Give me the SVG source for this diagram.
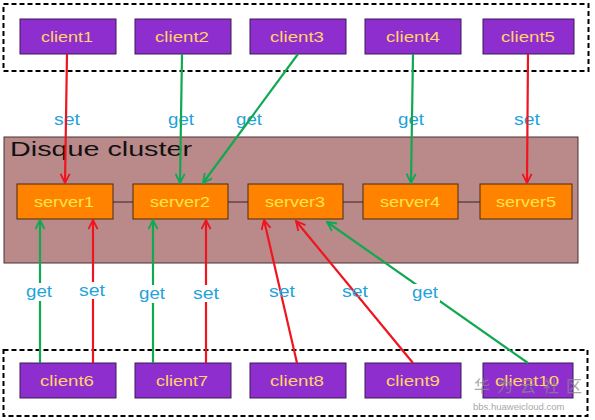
<svg xmlns="http://www.w3.org/2000/svg" width="595" height="420" viewBox="0 0 595 420">
<defs>
<style>
.grp{fill:none;stroke:#000;stroke-width:2;stroke-dasharray:5,3}
.client rect{fill:#8F2ECF;stroke:#3a1a50;stroke-width:1}
.client text{font-family:"Liberation Sans",Arial,sans-serif;font-size:15px;fill:#FFD36A;text-anchor:middle}
.server rect{fill:#FF8300;stroke:#4a2a10;stroke-width:1}
.server text{font-family:"Liberation Sans",Arial,sans-serif;font-size:15px;fill:#FFE34A;text-anchor:middle}
.lbl{font-family:"Liberation Sans",Arial,sans-serif;font-size:16px;fill:#1FA3DA;text-anchor:middle}
.red{stroke:#F0141E;stroke-width:2.2;fill:none}
.green{stroke:#10A850;stroke-width:2.2;fill:none}
.bg{fill:#fff}
</style>
<marker id="ar" viewBox="0 0 12 12" refX="11" refY="6" markerWidth="5" markerHeight="5" orient="auto" markerUnits="strokeWidth">
<path d="M1,1 L11,6 L1,11" fill="none" stroke="#F0141E" stroke-width="2"/>
</marker>
<marker id="ag" viewBox="0 0 12 12" refX="11" refY="6" markerWidth="5" markerHeight="5" orient="auto" markerUnits="strokeWidth">
<path d="M1,1 L11,6 L1,11" fill="none" stroke="#10A850" stroke-width="2"/>
</marker>
</defs>
<rect width="595" height="420" fill="#fff"/>
<rect class="grp" x="3.5" y="4" width="585" height="67"/>
<rect class="grp" x="3.5" y="350" width="584" height="66"/>
<g id="cluster">
<rect x="4" y="137" width="574" height="126" fill="#BA8A8A" stroke="#4a3030" stroke-width="1"/>
<text x="10" y="156" font-family="Liberation Sans,Arial,sans-serif" font-size="20" fill="#111" textLength="182" lengthAdjust="spacingAndGlyphs">Disque cluster</text>
</g>
<g id="links" stroke="#3a2020" stroke-width="1">
<line x1="113" y1="202" x2="133" y2="202"/>
<line x1="228" y1="202" x2="248" y2="202"/>
<line x1="343" y1="202" x2="363" y2="202"/>
<line x1="458" y1="202" x2="480" y2="202"/>
</g>
<g id="server1" class="server"><rect x="17" y="184" width="96" height="35"/><text x="64" y="207" textLength="60" lengthAdjust="spacingAndGlyphs">server1</text></g>
<g id="server2" class="server"><rect x="133" y="184" width="95" height="35"/><text x="180" y="207" textLength="60" lengthAdjust="spacingAndGlyphs">server2</text></g>
<g id="server3" class="server"><rect x="248" y="184" width="95" height="35"/><text x="295" y="207" textLength="60" lengthAdjust="spacingAndGlyphs">server3</text></g>
<g id="server4" class="server"><rect x="363" y="184" width="95" height="35"/><text x="410" y="207" textLength="60" lengthAdjust="spacingAndGlyphs">server4</text></g>
<g id="server5" class="server"><rect x="480" y="184" width="92" height="35"/><text x="526" y="207" textLength="60" lengthAdjust="spacingAndGlyphs">server5</text></g>
<g id="client1" class="client"><rect x="20" y="19" width="96" height="35"/><text x="67" y="42" textLength="52" lengthAdjust="spacingAndGlyphs">client1</text></g>
<g id="client2" class="client"><rect x="135" y="19" width="96" height="35"/><text x="182" y="42" textLength="54" lengthAdjust="spacingAndGlyphs">client2</text></g>
<g id="client3" class="client"><rect x="250" y="19" width="96" height="35"/><text x="297" y="42" textLength="54" lengthAdjust="spacingAndGlyphs">client3</text></g>
<g id="client4" class="client"><rect x="365" y="19" width="96" height="35"/><text x="413" y="42" textLength="54" lengthAdjust="spacingAndGlyphs">client4</text></g>
<g id="client5" class="client"><rect x="483" y="19" width="91" height="35"/><text x="528" y="42" textLength="54" lengthAdjust="spacingAndGlyphs">client5</text></g>
<g id="client6" class="client"><rect x="20" y="363" width="96" height="35"/><text x="67" y="386" textLength="54" lengthAdjust="spacingAndGlyphs">client6</text></g>
<g id="client7" class="client"><rect x="135" y="363" width="96" height="35"/><text x="182" y="386" textLength="52" lengthAdjust="spacingAndGlyphs">client7</text></g>
<g id="client8" class="client"><rect x="250" y="363" width="96" height="35"/><text x="297" y="386" textLength="54" lengthAdjust="spacingAndGlyphs">client8</text></g>
<g id="client9" class="client"><rect x="365" y="363" width="96" height="35"/><text x="413" y="386" textLength="54" lengthAdjust="spacingAndGlyphs">client9</text></g>
<g id="client10" class="client"><rect x="483" y="363" width="90" height="35"/><text x="527" y="386" textLength="64" lengthAdjust="spacingAndGlyphs">client10</text></g>
<g id="connectors">
<text class="lbl" x="67" y="125" textLength="26" lengthAdjust="spacingAndGlyphs">set</text>
<text class="lbl" x="181" y="125" textLength="26" lengthAdjust="spacingAndGlyphs">get</text>
<text class="lbl" x="249" y="125" textLength="26" lengthAdjust="spacingAndGlyphs">get</text>
<text class="lbl" x="411" y="125" textLength="26" lengthAdjust="spacingAndGlyphs">get</text>
<text class="lbl" x="527" y="125" textLength="26" lengthAdjust="spacingAndGlyphs">set</text>
<line class="red" x1="67" y1="54" x2="65" y2="183" marker-end="url(#ar)"/>
<line class="green" x1="182" y1="54" x2="180" y2="183" marker-end="url(#ag)"/>
<line class="green" x1="298" y1="54" x2="203" y2="183" marker-end="url(#ag)"/>
<line class="green" x1="413" y1="54" x2="411" y2="183" marker-end="url(#ag)"/>
<line class="red" x1="528" y1="54" x2="527" y2="183" marker-end="url(#ar)"/>
<line class="green" x1="40" y1="363" x2="40" y2="220" marker-end="url(#ag)"/>
<line class="red" x1="93" y1="363" x2="93" y2="220" marker-end="url(#ar)"/>
<line class="green" x1="153" y1="363" x2="153" y2="220" marker-end="url(#ag)"/>
<line class="red" x1="206" y1="363" x2="206" y2="220" marker-end="url(#ar)"/>
<line class="red" x1="297" y1="363" x2="264" y2="220" marker-end="url(#ar)"/>
<line class="red" x1="413" y1="363" x2="296" y2="221" marker-end="url(#ar)"/>
<line class="green" x1="528" y1="363" x2="327" y2="222" marker-end="url(#ag)"/>
<rect class="bg" x="24" y="283" width="30" height="18"/>
<rect class="bg" x="78" y="282" width="29" height="17"/>
<rect class="bg" x="137" y="285" width="30" height="18"/>
<rect class="bg" x="191" y="285" width="29" height="17"/>
<rect class="bg" x="410" y="284" width="30" height="18"/>
<text class="lbl" x="39" y="297" textLength="26" lengthAdjust="spacingAndGlyphs">get</text>
<text class="lbl" x="92" y="296" textLength="26" lengthAdjust="spacingAndGlyphs">set</text>
<text class="lbl" x="152" y="299" textLength="26" lengthAdjust="spacingAndGlyphs">get</text>
<text class="lbl" x="206" y="299" textLength="26" lengthAdjust="spacingAndGlyphs">set</text>
<text class="lbl" x="282" y="297" textLength="26" lengthAdjust="spacingAndGlyphs">set</text>
<text class="lbl" x="355" y="297" textLength="26" lengthAdjust="spacingAndGlyphs">set</text>
<text class="lbl" x="425" y="298" textLength="26" lengthAdjust="spacingAndGlyphs">get</text>
</g>
<g id="watermark" fill="#8a8a8a" opacity="0.75" font-family="'Noto Sans CJK SC',sans-serif">
<text x="474" y="392" font-size="16" letter-spacing="7">华为云社区</text>
<text x="473" y="410" font-size="9.5" font-family="'Liberation Sans',sans-serif">bbs.huaweicloud.com</text>
</g>
</svg>
